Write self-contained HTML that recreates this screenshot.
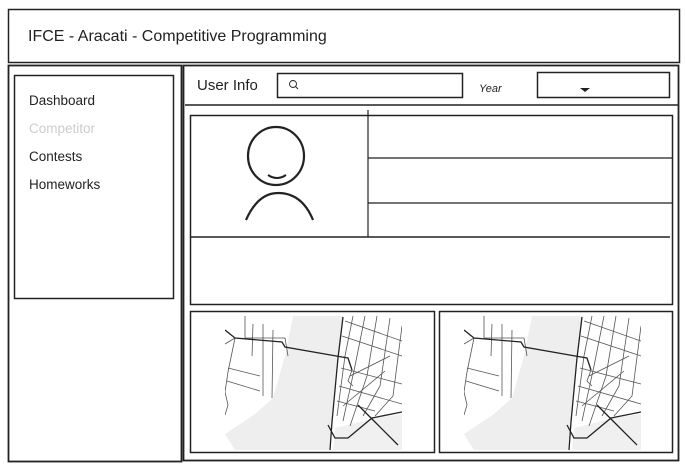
<!DOCTYPE html>
<html><head><meta charset="utf-8"><style>
html,body{margin:0;padding:0;background:#fff;}
svg{display:block;}
text{font-family:"Liberation Sans",sans-serif;}
</style></head><body>
<svg width="685" height="466" viewBox="0 0 685 466" xmlns="http://www.w3.org/2000/svg">
<defs>
<symbol id="map" viewBox="0 0 177 134" width="177" height="134">
<polygon points="68,0 118,0 113,42 107,106 104,134 10,134 0,118 30,98 48,82 60,40" fill="#eeeeee"/>
<polygon points="110,112 150,102 177,98 177,134 108,134" fill="#f0f0f0"/>
<g fill="none" stroke="#555" stroke-width="0.8">
<polyline points="10,22 3,56 0,76 3,89 0,99"/>
<polyline points="28,8 27,40"/>
<polyline points="38,8 38,80"/>
<polyline points="48,14 47,82"/>
<polyline points="3,52 35,60"/>
<polyline points="2,65 35,75"/>
<polyline points="20,0 20,22 60,22 63,40"/>
<polyline points="0,28 10,22"/>
<polyline points="128,0 120,40 112,100"/>
<polyline points="140,0 130,50 118,105"/>
<polyline points="152,0 142,60 125,110"/>
<polyline points="165,2 155,70 138,100"/>
<polyline points="177,10 168,80 150,100"/>
<polyline points="117,20 177,40"/>
<polyline points="116,52 177,68"/>
<polyline points="114,70 177,88"/>
<polyline points="112,85 150,95"/>
<polyline points="120,5 177,25"/>
<polyline points="125,60 165,40"/>
<polyline points="118,90 160,55"/>
<polyline points="127,54 123,65 128,70"/>
</g>
<g fill="none" stroke="#222" stroke-width="1.3">
<polyline points="0,14 10,22 57,26 60,31 117,41 123,42 127,54"/>
<polyline points="118,1 113,42 107,106 105,134"/>
<polyline points="103,109 110,122 123,122 147,102 177,96"/>
<polyline points="133,89 150,106 173,129"/>
</g>
</symbol>
</defs>
<g fill="none" stroke="#222">
<rect x="8.5" y="9.5" width="671" height="53" stroke-width="1.5"/>
<rect x="8.5" y="65.5" width="173" height="396" stroke-width="1.8"/>
<rect x="14.5" y="75.5" width="159" height="223" stroke-width="1.5"/>
<rect x="183.5" y="65.5" width="495" height="395" stroke-width="1.8"/>
<rect x="277.5" y="73.5" width="185" height="24" stroke-width="1.5"/>
<rect x="537.5" y="72.5" width="132" height="25" stroke-width="1.5"/>
<line x1="185" y1="105" x2="678" y2="105" stroke-width="1.5"/>
<rect x="190.5" y="115.5" width="482" height="189" stroke-width="1.5"/>
<line x1="368" y1="110" x2="368" y2="237" stroke-width="1.2"/>
<line x1="368" y1="158" x2="672" y2="158" stroke-width="1.3"/>
<line x1="368" y1="203" x2="672" y2="203" stroke-width="1.3"/>
<line x1="190" y1="237" x2="670" y2="237" stroke-width="1.5"/>
<ellipse cx="276" cy="156" rx="28" ry="29" stroke-width="2.2"/>
<path d="M268,175 Q277,181 286,175" stroke-width="2"/>
<path d="M246,220 Q258,193 278,193 Q302,193 313,220" stroke-width="2.2"/>
<circle cx="293" cy="84" r="3.5" stroke-width="0.9"/>
<line x1="295.5" y1="86.5" x2="298" y2="89" stroke-width="0.9"/>
</g>
<polygon points="580,88 590,88 585,92" fill="#222"/>
<use href="#map" x="225" y="316"/>
<use href="#map" x="464" y="316"/>
<g fill="none" stroke="#222">
<rect x="190.5" y="311.5" width="244" height="141" stroke-width="1.5"/>
<rect x="439.5" y="311.5" width="233" height="141" stroke-width="1.5"/>
</g>
<text x="28" y="41" font-size="16" fill="#222">IFCE - Aracati - Competitive Programming</text>
<text x="29" y="105" font-size="13.5" fill="#222">Dashboard</text>
<text x="29" y="133" font-size="13.5" fill="#ccc">Competitor</text>
<text x="29" y="161" font-size="13.5" fill="#222">Contests</text>
<text x="29" y="189" font-size="13.5" fill="#222">Homeworks</text>
<text x="197" y="90" font-size="15" fill="#222">User Info</text>
<text x="479" y="92" font-size="11" fill="#222" font-style="italic">Year</text>
</svg>
</body></html>
